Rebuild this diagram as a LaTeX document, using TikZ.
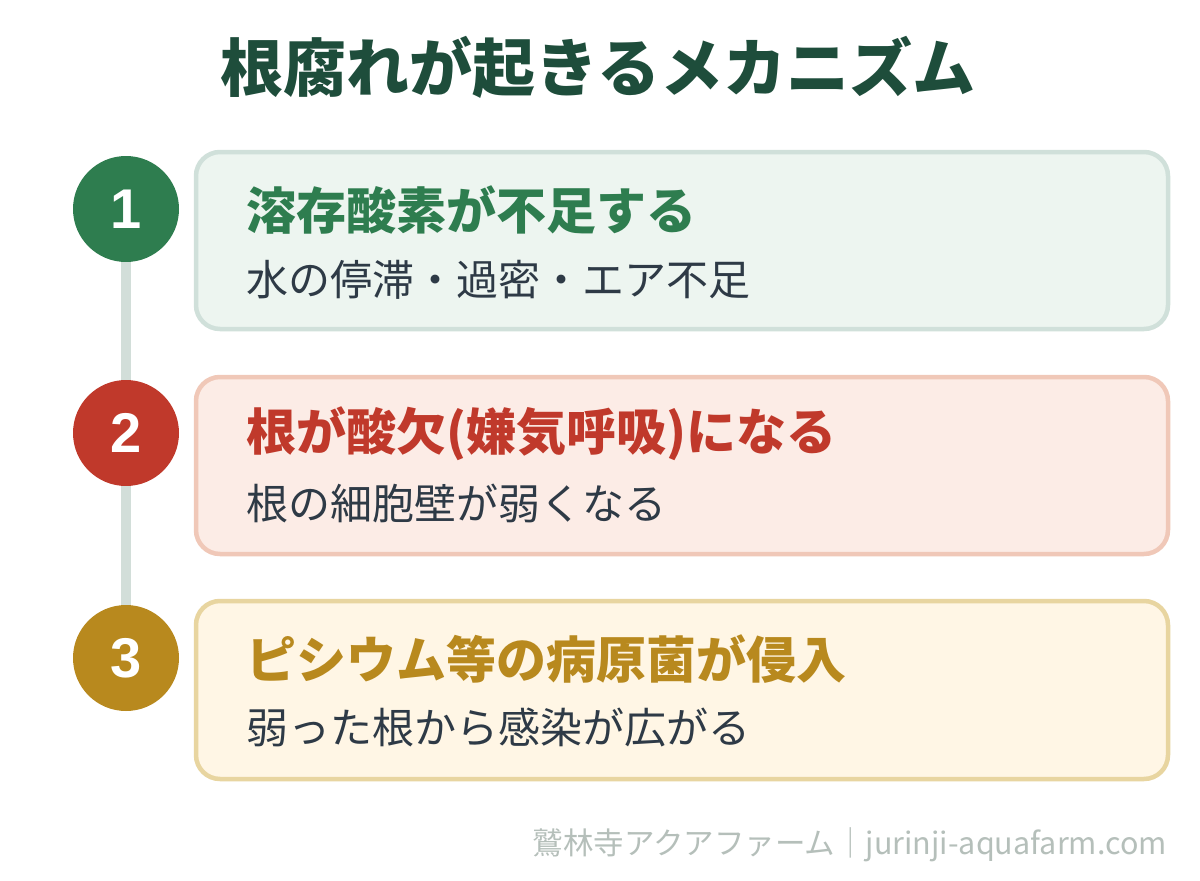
\documentclass[tikz,border=0pt]{standalone}
\usepackage{fontspec}
\setmainfont{Noto Sans CJK JP}
\newfontfamily\numfont{Liberation Sans}
\definecolor{titlec}{HTML}{1E4D3B}
\definecolor{linec}{HTML}{D2DED9}
\definecolor{gc}{HTML}{2E7D4F}
\definecolor{rc}{HTML}{C0392B}
\definecolor{yc}{HTML}{B8891E}
\definecolor{gfill}{HTML}{EDF5F0}
\definecolor{gbord}{HTML}{D0E0DA}
\definecolor{rfill}{HTML}{FCECE6}
\definecolor{rbord}{HTML}{F0C8B8}
\definecolor{yfill}{HTML}{FFF6E5}
\definecolor{ybord}{HTML}{E8D5A0}
\definecolor{subc}{HTML}{2E3A46}
\definecolor{footc}{HTML}{B5BFBA}
\tikzset{
  card/.style={rounded corners=24pt, line width=4.5pt},
  numc/.style={circle, minimum size=106pt, inner sep=0pt, text=white, font=\fontsize{56}{56}\selectfont\bfseries\numfont},
  head/.style={anchor=west, inner sep=0pt, font=\fontsize{50}{50}\selectfont\bfseries},
  sub/.style={anchor=west, inner sep=0pt, text=subc, font=\fontsize{42}{42}\selectfont},
}
\begin{document}
\begin{tikzpicture}[x=1pt,y=-1pt]
\useasboundingbox[fill=white] (0,0) rectangle (1200,881);
\node[inner sep=0pt, text=titlec, font=\fontsize{63}{63}\selectfont\bfseries] (title) at (598,67) {根腐れが起きるメカニズム};
\node[numc, fill=gc] (n1) at (126,209) {1};
\node[numc, fill=rc] (n2) at (126,433) {2};
\node[numc, fill=yc] (n3) at (126,658) {3};
\draw[line width=10pt, linec] (n1.south) -- (n2.north);
\draw[line width=10pt, linec] (n2.south) -- (n3.north);
\draw[card, fill=gfill, draw=gbord] (196,152) rectangle (1168,329);
\draw[card, fill=rfill, draw=rbord] (196,377) rectangle (1168,554);
\draw[card, fill=yfill, draw=ybord] (196,601) rectangle (1168,779);
\node[head, text=gc] (h1) at (246,210) {溶存酸素が不足する};
\node[sub] (s1) at (246,280) {水の停滞・過密・エア不足};
\node[head, text=rc] (h2) at (246,434) {根が酸欠(嫌気呼吸)になる};
\node[sub] (s2) at (246,503) {根の細胞壁が弱くなる};
\node[head, text=yc] (h3) at (246,659) {ピシウム等の病原菌が侵入};
\node[sub] (s3) at (246,727) {弱った根から感染が広がる};
\node[anchor=east, inner sep=0pt, text=footc, font=\fontsize{30.5}{30.5}\selectfont] (foot) at (1167,845) {鷲林寺アクアファーム｜jurinji-aquafarm.com};
\end{tikzpicture}
\end{document}
